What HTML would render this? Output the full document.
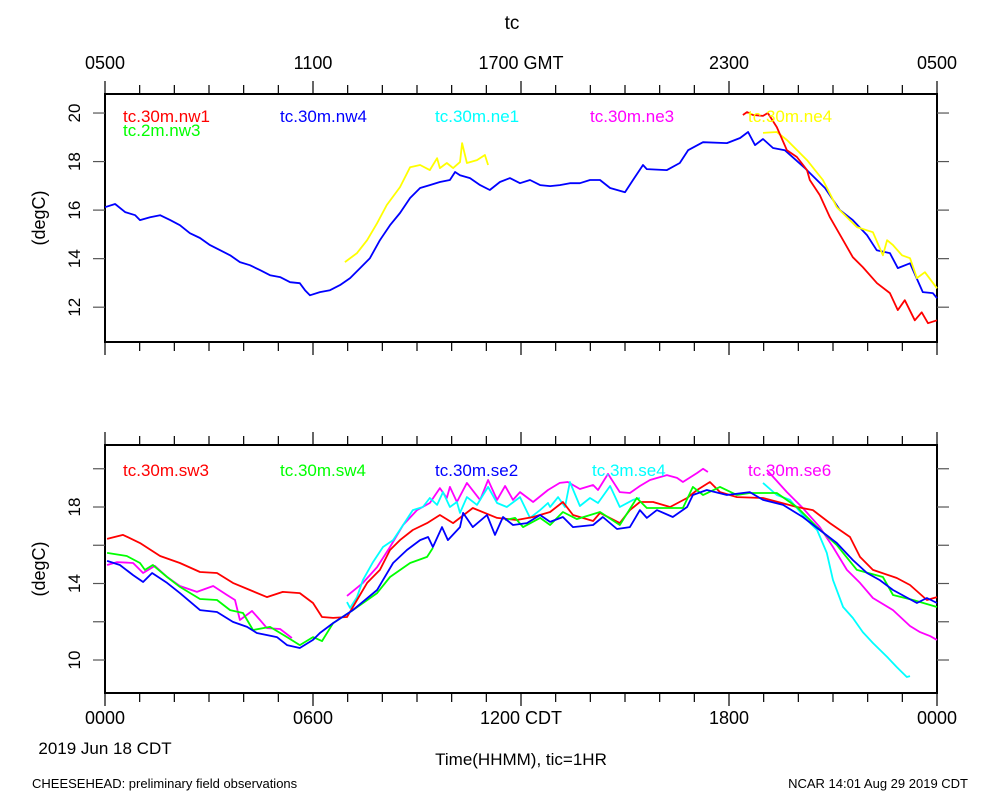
<!DOCTYPE html>
<html><head><meta charset="utf-8"><style>
body{margin:0;background:#fff}
svg{display:block}
text{font-family:"Liberation Sans",sans-serif}
</style></head><body>
<svg id="c" width="1000" height="800" viewBox="0 0 1000 800">
<text x="512" y="29" font-size="19" text-anchor="middle">tc</text>
<text x="60" y="40" font-size="1" fill="#fff"> </text>
<text x="45" y="218" font-size="18" text-anchor="middle" transform="rotate(-90 45 218)">(degC)</text>
<text x="45" y="569" font-size="18" text-anchor="middle" transform="rotate(-90 45 569)">(degC)</text>
<text x="105" y="754" font-size="17" text-anchor="middle">2019 Jun 18 CDT</text>
<text x="521" y="765" font-size="17" text-anchor="middle">Time(HHMM), tic=1HR</text>
<text x="32" y="788" font-size="13">CHEESEHEAD: preliminary field observations</text>
<text x="968" y="788" font-size="13" text-anchor="end">NCAR 14:01 Aug 29 2019 CDT</text>
</svg>
<script>
const topTickLabels=["0500","1100","1700 GMT","2300","0500"];
const bottomTickLabels=["0000","0600","1200 CDT","1800","0000"];
const topYTicks=[12,14,16,18,20];
const bottomYTicks=[10,12,14,16,18,20];
const bottomYLabels=[10,14,18];
const legendTop=["tc.30m.nw1","tc.2m.nw3","tc.30m.nw4","tc.30m.ne1","tc.30m.ne3","tc.30m.ne4"];
const legendBottom=["tc.30m.sw3","tc.30m.sw4","tc.30m.se2","tc.3m.se4","tc.30m.se6"];

const nw4Hours=[0,0.29,0.58,0.87,1.01,1.3,1.59,1.88,2.16,2.45,2.74,3.03,3.32,3.61,3.89,4.18,4.47,4.76,5.05,5.34,5.62,5.77,5.91,6.2,6.49,6.78,7.07,7.36,7.64,7.93,8.22,8.51,8.8,9.09,9.37,9.66,9.95,10.1,10.24,10.53,10.82,11.1,11.39,11.68,11.97,12.26,12.55,12.84,13.12,13.41,13.7,13.99,14.28,14.57,15,15.23,15.52,15.63,16.21,16.58,16.82,17.25,17.94,18.32,18.55,18.75,18.98,19.27,19.61,20.19,20.77,21.2,21.57,21.98,22.26,22.64,22.87,23.22,23.59,23.88,24];
const nw4Values=[16.12,16.25,15.92,15.79,15.59,15.71,15.79,15.59,15.38,15.05,14.85,14.56,14.35,14.14,13.86,13.73,13.53,13.32,13.24,13.03,12.99,12.7,12.49,12.62,12.7,12.91,13.2,13.61,14.02,14.76,15.38,15.88,16.5,16.91,17.03,17.16,17.24,17.57,17.44,17.32,17.03,16.83,17.16,17.32,17.11,17.24,17.03,16.99,17.03,17.11,17.11,17.24,17.24,16.91,16.74,17.24,17.86,17.69,17.65,17.94,18.47,18.8,18.76,18.97,19.22,18.68,18.93,18.56,18.47,17.73,16.91,16,15.59,14.97,14.35,14.23,13.61,13.81,12.62,12.58,12.37];
const ne4Hours=[6.92,7.27,7.56,7.85,8.13,8.51,8.8,9.09,9.37,9.58,9.66,9.86,10.04,10.24,10.3,10.44,10.73,10.96,11.05,null,18.98,19.38,19.67,20.25,20.71,21.11,21.69,22.15,22.44,22.56,22.73,22.99,23.22,23.42,23.65,24];
const ne4Values=[13.86,14.23,14.76,15.46,16.21,16.95,17.77,17.86,17.65,18.14,17.73,17.94,17.73,17.98,18.76,17.94,18.06,18.27,17.86,null,19.18,19.22,18.89,18.06,17.24,16.12,15.3,15.09,14.14,14.76,14.56,14.14,14.02,13.2,13.44,12.78];
const nw1Hours=[18.4,18.52,18.69,18.98,19.12,19.38,19.67,19.96,20.25,20.33,20.62,20.91,21.29,21.57,21.86,22.27,22.64,22.87,23.07,23.36,23.56,23.74,24];
const nw1Values=[19.92,20.04,19.92,19.88,20,19.42,18.47,18.19,17.65,17.24,16.62,15.71,14.76,14.06,13.65,12.99,12.58,11.88,12.29,11.46,11.79,11.34,11.46];

const sw3Hours=[0.06,0.52,1.01,1.59,2.16,2.74,3.23,3.69,4.18,4.67,5.13,5.62,6,6.26,6.58,6.98,7.27,7.56,7.93,8.22,8.51,8.88,9.29,9.66,10.04,10.61,11.31,11.88,12.35,12.84,13.21,13.5,14.08,14.28,14.85,15.14,15.43,15.81,16.3,16.79,17.08,17.45,17.74,18.23,18.98,19.96,20.42,20.91,21.49,21.78,22.15,22.84,23.22,23.71,24];
const sw3Values=[16.33,16.54,16.12,15.44,15.07,14.6,14.55,14.03,13.66,13.29,13.56,13.5,12.98,12.25,12.2,12.25,13.14,14.03,14.71,15.75,16.27,16.8,17.16,17.58,17.16,17.95,17.43,17.32,17.48,17.74,18.26,17.58,17.27,17.69,17.16,17.84,18.26,18.26,18,18.47,18.89,19.31,18.78,18.52,18.47,18,17.84,17.16,16.43,15.39,14.71,14.29,13.92,13.14,13.29];
const sw4Hours=[0.06,0.63,1.01,1.15,1.38,1.79,2.16,2.74,3.23,3.61,3.98,4.27,4.76,5.25,5.62,6,6.26,6.58,7.15,7.85,8.22,8.8,9.29,9.46,null,11.54,11.83,12.06,12.55,12.84,13.21,13.61,14.28,14.85,15.34,15.63,16.21,16.67,16.96,17.25,17.74,18.23,18.6,19.38,19.96,20.54,21.11,21.69,22.44,22.73,23.31,24];
const sw4Values=[15.6,15.44,15.07,14.71,14.97,14.34,13.82,13.19,13.14,12.61,12.46,11.57,11.73,11.2,10.78,11.2,10.99,11.93,12.61,13.5,14.34,15.07,15.39,15.86,null,17.32,17.43,16.95,17.43,17.06,17.74,17.37,17.74,17.06,18.47,17.95,17.95,17.95,19.05,18.63,19.05,18.63,18.73,18.73,18,16.95,16.01,14.71,14.34,13.4,13.14,12.77];
const se2Hours=[0.06,0.43,0.81,1.1,1.36,1.79,2.16,2.74,3.23,3.69,4.1,4.38,4.96,5.25,5.62,6,6.2,6.58,7.15,7.85,8.31,8.71,9.09,9.32,9.46,9.72,9.89,10.24,10.33,10.61,11.02,11.25,11.48,11.77,12.17,12.55,12.84,13.21,13.5,14.08,14.36,14.77,15.14,15.43,15.63,15.92,16.38,16.79,16.96,17.36,17.94,18.6,18.98,19.56,20.13,20.62,21.11,21.57,21.98,22.35,22.73,23.42,23.71,24];
const se2Values=[15.18,14.97,14.44,14.08,14.55,14.03,13.5,12.61,12.51,11.99,11.73,11.41,11.2,10.78,10.63,11.05,11.41,11.93,12.61,13.66,15.07,15.75,16.27,16.43,15.91,16.95,16.27,16.95,17.69,16.95,17.58,16.54,17.48,17.06,17.16,17.58,17.22,17.48,16.95,17.06,17.48,16.85,16.95,17.84,17.43,17.84,17.48,18,18.63,18.89,18.63,18.78,18.37,18.11,17.48,16.8,16.12,15.23,14.55,14.18,13.66,12.98,13.24,12.98];
const se4Hours=[6.98,7.07,7.27,7.44,7.73,8.02,8.31,8.6,8.88,9.17,9.37,9.58,9.75,9.95,10.15,10.24,10.44,10.73,11.05,11.31,11.59,11.97,12.26,12.55,12.78,12.84,13.07,13.27,13.41,13.7,13.99,14.22,14.57,14.85,15.23,15.43,null,18.98,19.38,19.76,20.25,20.54,20.82,21,21.29,21.57,21.86,22.15,22.56,22.84,23.13,23.22];
const se4Values=[13.03,12.72,13.29,14.18,15.12,15.91,16.27,17.06,17.84,18,18.47,18.11,18.78,18,18.26,17.69,18.52,18.11,19.05,18.21,18,18.52,17.43,17.84,18.21,18,18.52,18,19.31,18.05,18.47,18.21,19.1,18,18.37,18.47,null,19.26,18.63,18.37,17.32,16.8,15.6,14.18,12.77,12.2,11.46,10.89,10.16,9.63,9.11,9.16];
const se6Hours=[0.06,0.35,0.81,1.1,1.44,1.79,2.16,2.65,3.12,3.52,3.75,3.89,4.24,4.47,4.67,5.05,5.39,null,6.98,7.44,7.85,8.22,8.6,9,9.37,9.66,9.86,9.95,10.15,10.44,10.82,11.05,11.31,11.54,11.77,11.97,12.35,12.78,13.12,13.35,13.7,14.08,14.22,14.51,14.85,15.14,15.43,15.72,16.21,16.5,16.67,17.08,17.25,17.39,null,19.09,19.67,20.13,20.62,21,21.4,21.78,22.15,22.73,23.22,23.51,23.8,24];
const se6Values=[14.97,15.12,15.07,14.55,14.92,14.34,13.87,13.56,13.87,13.4,13.14,12.09,12.56,12.09,11.67,11.62,11.15,null,13.35,14.03,14.86,15.91,17.06,17.84,18.21,18.99,18.47,19.05,18.26,19.26,18.37,19.41,18.37,19.1,18.37,18.78,18.26,18.89,19.26,19.31,18.94,19.15,18.89,19.73,18.78,18.73,19.1,19.41,19.67,19.52,19.31,19.78,20,19.83,null,19.94,18.78,17.95,16.95,15.91,14.71,14.03,13.24,12.61,11.78,11.46,11.25,11.05];

const svg=document.getElementById('c');
const NS='http://www.w3.org/2000/svg';
const X0=105,X1=937;
const xs=h=>X0+(X1-X0)*h/24;
const panels=[{t:94,b:342,vmin:10.566,vmax:20.784},{t:445,b:693,vmin:8.275,vmax:21.242}];
const ys=(p,v)=>p.b-(v-p.vmin)/(p.vmax-p.vmin)*(p.b-p.t);
function mk(tag,attrs){const e=document.createElementNS(NS,tag);for(const k in attrs)e.setAttribute(k,attrs[k]);svg.appendChild(e);return e;}
function txt(x,y,s,size,anchor,fill){const e=mk('text',{x:x,y:y,'font-size':size,'text-anchor':anchor,fill:fill||'#000'});e.textContent=s;return e;}

panels.forEach((p,pi)=>{
  const f=mk('rect',{x:X0,y:p.t,width:X1-X0,height:p.b-p.t,fill:'none',stroke:'#000','stroke-width':2});
  
  
  for(let h=0;h<=24;h++){
    const x=xs(h),L=(h%6==0)?13:9;
    const t1=mk('line',{x1:x,x2:x,y1:p.t,y2:p.t-L,stroke:'#000','stroke-width':1.2});
    
    
    const t2=mk('line',{x1:x,x2:x,y1:p.b,y2:p.b+L,stroke:'#000','stroke-width':1.2});
    
    
  }
  const yt=pi?bottomYTicks:topYTicks;
  yt.forEach(v=>{
    const y=ys(p,v);
    const a=mk('line',{x1:X0,x2:X0-12,y1:y,y2:y,stroke:'#555','stroke-width':1.2});
    
    
    const b=mk('line',{x1:X1,x2:X1+12,y1:y,y2:y,stroke:'#555','stroke-width':1.2});
    
    
    if(!pi||bottomYLabels.includes(v)){
      const l=txt(0,0,String(v),17,'middle');
      l.setAttribute('transform','translate('+(X0-31)+','+y+') rotate(-90)');
      l.setAttribute('dy','6');
      
      
    }
  });
});
topTickLabels.forEach((s,i)=>{const l=txt(xs(i*6),69,s,18,'middle');
  
  });
bottomTickLabels.forEach((s,i)=>{const l=txt(xs(i*6),724,s,18,'middle');
  
  });

function series(p,hrs,vals,color,name){
  let d='',pen=false;
  for(let i=0;i<hrs.length;i++){
    if(hrs[i]===null||vals[i]===null){pen=false;continue;}
    d+=(pen?'L':'M')+xs(hrs[i]).toFixed(1)+' '+ys(p,vals[i]).toFixed(1);pen=true;
  }
  const e=mk('path',{d:d,fill:'none',stroke:color,'stroke-width':1.8,'stroke-linejoin':'round'});
  
  
}
series(panels[0],nw4Hours,nw4Values,'#0000ff','line-nw4');
series(panels[0],ne4Hours,ne4Values,'#ffff00','line-ne4');
series(panels[0],nw1Hours,nw1Values,'#ff0000','line-nw1');
series(panels[1],se6Hours,se6Values,'#ff00ff','line-se6');
series(panels[1],se4Hours,se4Values,'#00ffff','line-se4');
series(panels[1],sw3Hours,sw3Values,'#ff0000','line-sw3');
series(panels[1],sw4Hours,sw4Values,'#00ff00','line-sw4');
series(panels[1],se2Hours,se2Values,'#0000ff','line-se2');

const topCols=['#ff0000','#00ff00','#0000ff','#00ffff','#ff00ff','#ffff00'];
const topPos=[[123,122],[123,136],[280,122],[435,122],[590,122],[748,122]];
legendTop.forEach((s,i)=>{const l=txt(topPos[i][0],topPos[i][1],s,17,'start',topCols[i]);
  
  });
const botCols=['#ff0000','#00ff00','#0000ff','#00ffff','#ff00ff'];
const botX=[123,280,435,592,748];
legendBottom.forEach((s,i)=>{const l=txt(botX[i],476,s,17,'start',botCols[i]);
  
  });
</script>
</body></html>
